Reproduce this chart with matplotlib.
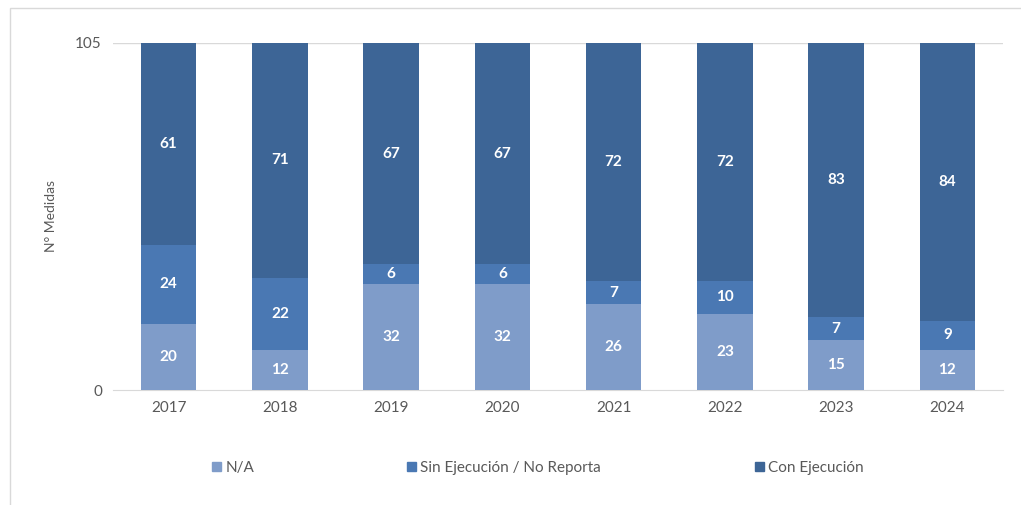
import matplotlib.pyplot as plt
import matplotlib.patches as mpatches
import numpy as np

years = ['2017', '2018', '2019', '2020', '2021', '2022', '2023', '2024']
na_vals = [20, 12, 32, 32, 26, 23, 15, 12]
sin_vals = [24, 22, 6, 6, 7, 10, 7, 9]
con_vals = [61, 71, 67, 67, 72, 72, 83, 84]
series_names = ['N/A', 'Sin Ejecución / No Reporta', 'Con Ejecución']
colors = ['#7F9CC9', '#4A78B3', '#3D6596']

plt.rcParams['font.family'] = ['Lato', 'DejaVu Sans']

fig = plt.figure(figsize=(10.21, 5.05), dpi=100)
ax = fig.add_axes([113 / 1021, 1 - 390 / 505, 890 / 1021, 347 / 505])

x = np.arange(len(years))
bottom = np.zeros(len(years))
for vals, col in zip([na_vals, sin_vals, con_vals], colors):
    vals = np.array(vals)
    ax.bar(x, vals, width=0.5, bottom=bottom, color=col, zorder=3)
    for xi, b, v in zip(x, bottom, vals):
        ax.text(xi, b + v / 2, str(v), ha='center', va='center',
                color='white', fontsize=11, fontweight='bold', zorder=4)
    bottom += vals

ax.set_xlim(-0.5, len(years) - 0.5)
ax.set_ylim(0, 105)
ax.set_yticks([0, 105])
ax.set_xticks(x)
ax.set_xticklabels(years)
ax.tick_params(axis='both', length=0, labelsize=11, colors='#595959', pad=8)
ax.axhline(105, color='#D9D9D9', lw=1, zorder=1)
for s in ['top', 'right', 'left']:
    ax.spines[s].set_visible(False)
ax.spines['bottom'].set_color('#D9D9D9')
ax.set_ylabel('N° Medidas', fontsize=10, color='#595959')
ax.yaxis.set_label_coords(-56 / 890, 0.5)

# outer frame
frame = mpatches.Rectangle((10 / 1021, -0.1), 1.1, 1 - 8 / 505 + 0.1,
                           transform=fig.transFigure, fill=False,
                           edgecolor='#D9D9D9', lw=1)
fig.patches.append(frame)

# legend entries
leg_x = [204 / 1021, 399 / 1021, 747 / 1021]
for name, col, lx in zip(series_names, colors, leg_x):
    h = mpatches.Patch(color=col)
    fig.legend([h], [name], loc='center left', bbox_to_anchor=(lx, 1 - 468 / 505),
               frameon=False, fontsize=11, handlelength=0.6, handleheight=0.6,
               handletextpad=0.3, labelcolor='#595959', borderpad=0)

fig.savefig('out.png', dpi=100)
